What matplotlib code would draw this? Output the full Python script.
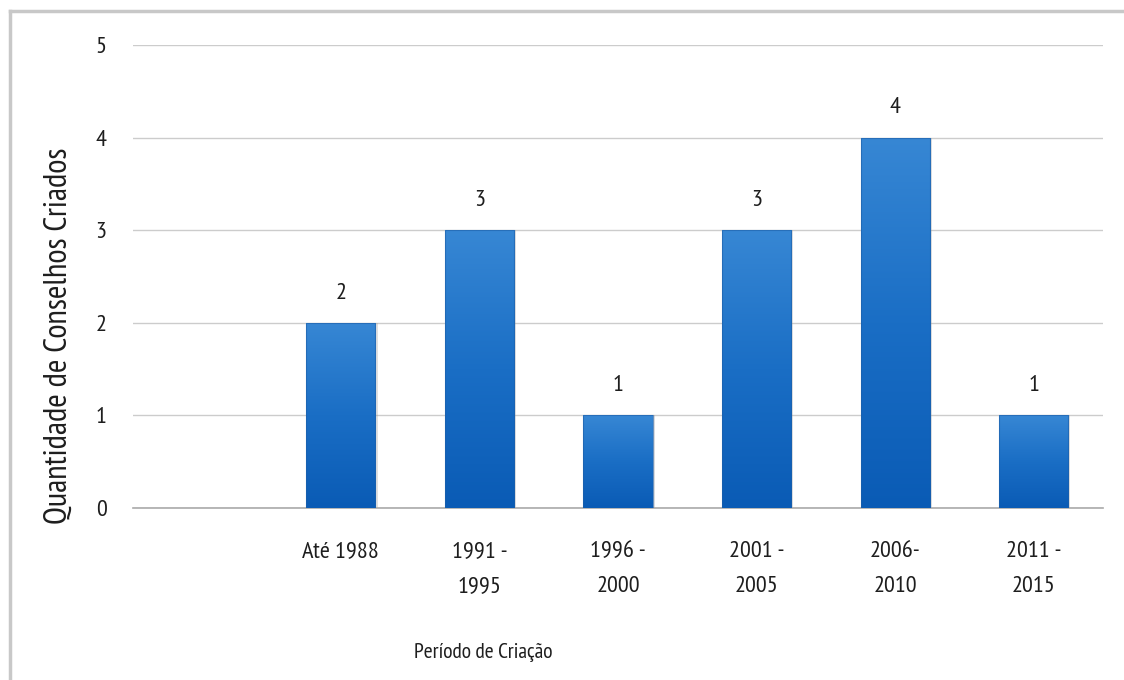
import numpy as np
import matplotlib.pyplot as plt
from matplotlib.patches import Rectangle
from matplotlib.lines import Line2D
from matplotlib.colors import LinearSegmentedColormap

plt.rcParams['font.family'] = ['PT Sans Narrow', 'Carlito', 'DejaVu Sans']

periodos = ['', 'Até 1988', '1991 -\n1995', '1996 -\n2000', '2001 -\n2005', '2006-\n2010', '2011 -\n2015']
valores = [0, 2, 3, 1, 3, 4, 1]
rotulos = ['', '2', '3', '1', '3', '4', '1']

W, H = 1124, 680
fig = plt.figure(figsize=(W / 100, H / 100), dpi=100)
ax = fig.add_axes([133 / W, (H - 508) / H, 970 / W, 463 / H])

x = np.arange(len(periodos))
bars = ax.bar(x, valores, width=0.5, color='none', edgecolor='none', zorder=3)

cmap = LinearSegmentedColormap.from_list('grad', ['#0a5bb5', '#1a6ec5', '#3787d4'])
grad = np.linspace(0, 1, 256).reshape(-1, 1)
for b, v in zip(bars, valores):
    if v == 0:
        continue
    x0 = b.get_x()
    w = b.get_width()
    # sombra leve atras da barra
    ax.add_patch(Rectangle((x0 + 0.015, 0), w, v, facecolor='#9a9a9a', alpha=0.3,
                           edgecolor='none', zorder=2))
    im = ax.imshow(grad, extent=[x0, x0 + w, 0, v], origin='lower', cmap=cmap,
                   aspect='auto', zorder=3)
    im.set_clip_path(b)
    ax.add_patch(Rectangle((x0, 0), w, v, fill=False, edgecolor='#1d5fa8',
                           linewidth=0.8, alpha=0.6, zorder=4))

for xi, v, r in zip(x, valores, rotulos):
    if r:
        ax.text(xi, v + 0.32, r, ha='center', va='center', fontsize=17.5, color='#1e1e1e')

ax.set_xlim(-0.5, len(periodos) - 0.5)
ax.set_ylim(0, 5)
ax.set_yticks(range(6))
ax.set_xticks(x)
ax.set_xticklabels(periodos, fontsize=17.5, color='#1e1e1e', linespacing=1.85, va='top')
ax.tick_params(axis='y', labelsize=17.5, colors='#1e1e1e', length=0, pad=19)
ax.tick_params(axis='x', length=0, pad=24)
ax.grid(axis='y', color='#cccccc', linewidth=1, zorder=0)
for s in ['top', 'right', 'left']:
    ax.spines[s].set_visible(False)
ax.spines['bottom'].set_color('#aaaaaa')
ax.spines['bottom'].set_linewidth(1.2)

ax.set_ylabel('Quantidade de Conselhos Criados', fontsize=23.5, color='#1e1e1e')
ax.yaxis.set_label_coords((74 - 133) / 970, (508 - 336) / 463)
ax.set_xlabel('Período de Criação', fontsize=15.5, color='#1e1e1e')
ax.xaxis.set_label_coords((483 - 133) / 970, -(652 - 508) / 463)
ax.xaxis.label.set_va('center')

# moldura (so topo e esquerda visiveis)
fig.lines.append(Line2D([10 / W, 10 / W], [0, 1 - 11 / H], transform=fig.transFigure,
                        color='#c8c8c8', linewidth=2.5))
fig.lines.append(Line2D([10 / W, 1], [1 - 11 / H, 1 - 11 / H], transform=fig.transFigure,
                        color='#c8c8c8', linewidth=2.5))

fig.savefig('out.png', dpi=100)
